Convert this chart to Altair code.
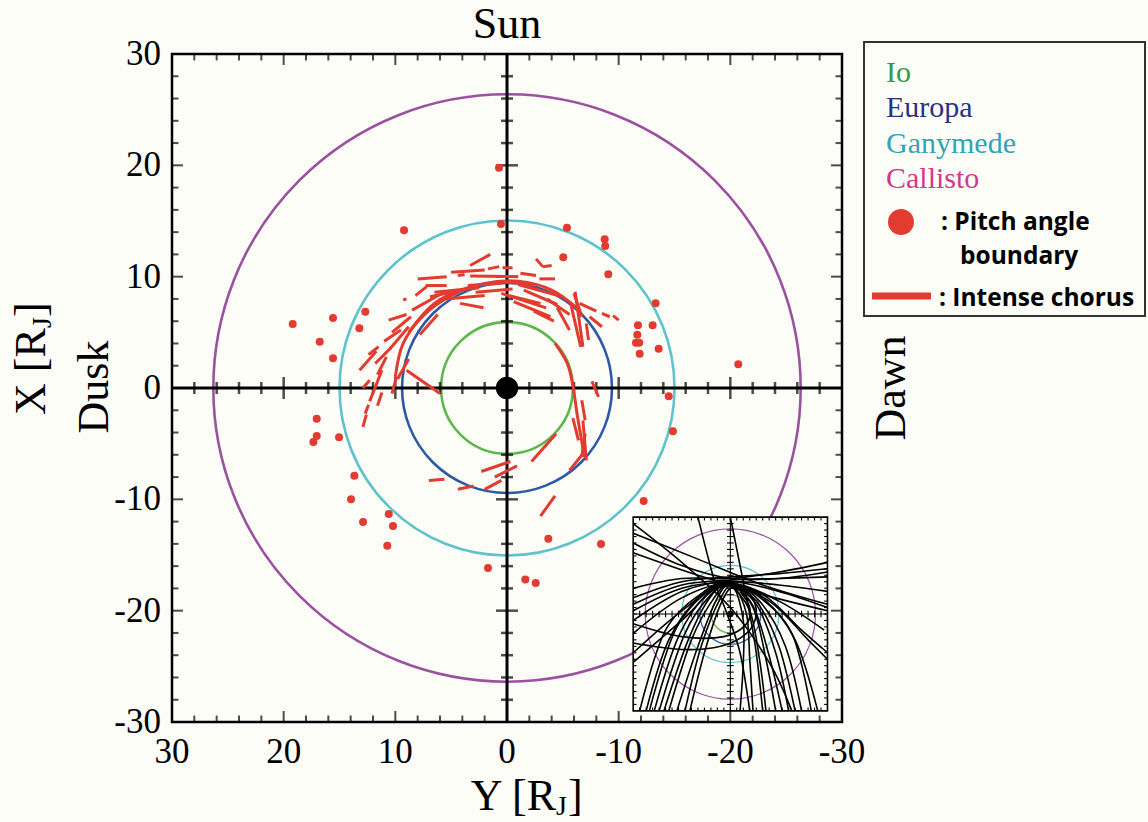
import math
import altair as alt
import pandas as pd

# ---------------------------------------------------------------- layout
W, H = 670, 668
PAD = {"left": 172, "top": 54, "right": 306, "bottom": 100}
SERIF = "Liberation Serif"
SANS = "Open Sans"
BG = "#fdfdf8"
RED = "#e23b30"
TAU = 2 * math.pi + 0.001

# ---------------------------------------------------------------- data
MOONS = ["Io", "Europa", "Ganymede", "Callisto"]
ORBIT_R = [5.9, 9.4, 15.0, 26.3]
ORBIT_COLOR = ["#5cb84a", "#2d5aa6", "#5ec3cc", "#9b51a0"]
MOON_TEXT_COLOR = ["#2f9a4a", "#2b3180", "#2fa5b5", "#d2398b"]
JUPITER_R = 1.0

AXIS_LABELS = [30, 20, 10, 0, -10, -20, -30]
TICKS = list(range(-28, 29, 2))
MAJOR = [-20, -10, 0, 10, 20]

# pitch angle boundary crossings (Y, X) in R_J
PITCH_Y = [0.72, 0.54, 9.22, -5.37, -8.75, -8.80, -5.04, -9.07, -13.31, 19.19,
           15.58, 12.69, 16.77, 13.22, 15.58, -11.73, -13.04, -11.67, -11.55, -11.84,
           -11.88, -13.58, -20.71, -14.48, -14.86, 17.04, 17.04, 17.34, 15.04, 13.67,
           13.97, 10.59, 12.89, 10.21, 10.72, -3.70, -12.24, -8.42, 1.70, -1.64, -2.57]
PITCH_X = [19.79, 14.73, 14.17, 14.40, 13.36, 12.76, 11.74, 10.22, 7.61, 5.75,
           6.29, 6.86, 4.16, 5.36, 2.67, 5.63, 5.63, 4.79, 4.07, 4.07,
           3.08, 3.53, 2.13, -0.75, -3.89, -2.76, -4.31, -4.85, -4.43, -7.88,
           -10.00, -11.32, -12.04, -12.40, -14.17, -13.54, -10.15, -14.02, -16.17, -17.19, -17.52]

# intense chorus intervals along the orbit: (Y1, X1, Y2, X2)
CHORUS_SEGMENTS = [
    (8.0, 9.8, 5.4, 10.0), (3.3, 10.05, -1.0, 10.0), (3.3, 11.0, 1.5, 12.0),
    (1.7, 10.7, 0.7, 10.9), (0.4, 10.8, -0.5, 10.8), (-2.6, 11.6, -3.2, 10.9),
    (-3.2, 10.9, -4.0, 11.0), (-2.9, 9.8, -4.3, 9.8), (7.3, 9.2, 5.4, 9.2),
    (8.2, 8.3, 7.2, 9.1), (9.3, 7.9, 9.0, 8.0), (4.4, 10.1, 3.8, 10.2),
    (6.9, 8.2, 4.5, 8.7), (6.5, 8.6, 2.5, 9.0), (5.5, 8.0, 2.0, 8.3),
    (4.2, 7.6, 2.1, 7.2), (3.5, 9.2, 0.5, 9.4), (10.6, 6.1, 9.0, 6.6),
    (10.3, 5.0, 8.6, 6.4), (11.0, 4.2, 9.5, 5.2), (12.4, 3.0, 11.5, 3.7),
    (13.2, 1.6, 11.7, 3.3), (10.5, 3.5, 8.8, 5.5), (12.9, 0.0, 12.3, 0.7),
    (12.3, -1.2, 11.2, 1.6), (11.6, -1.6, 11.2, -0.4), (12.7, -2.3, 12.4, -1.5),
    (12.9, -3.5, 12.6, -2.4), (10.3, -0.5, 9.9, 1.0), (9.8, 0.8, 8.8, 2.6),
    (9.0, 1.6, 6.0, -0.5), (-0.6, 7.75, -3.9, 6.4), (-2.4, 6.9, -4.2, 6.0),
    (0.5, 8.5, -3.5, 7.2), (-1.5, 8.8, -4.5, 7.5), (-6.1, 8.65, -6.8, 3.7),
    (-5.7, 7.6, -6.6, 3.7), (-6.5, 7.6, -8.0, 6.9), (-8.5, 6.7, -9.2, 6.4),
    (-9.5, 6.5, -10.0, 6.1), (-7.4, 6.4, -8.5, 5.5), (-7.1, 5.8, -7.3, 4.3),
    (-6.0, 8.5, -6.7, 6.4), (-7.6, 0.6, -8.2, -0.8), (-6.7, -1.1, -7.0, -2.9),
    (-5.9, -2.7, -6.4, -4.7), (-6.8, -2.9, -7.1, -6.5), (-6.7, -6.2, -7.0, -4.1),
    (-5.6, -7.4, -6.8, -5.9), (-2.2, -6.6, -4.4, -4.1), (2.3, -7.5, -0.3, -6.6),
    (1.1, -8.0, -0.9, -7.0), (7.0, -8.3, 5.6, -8.2), (4.4, -9.1, 3.0, -8.8),
    (2.0, -9.1, 0.5, -8.3), (-3.0, -11.5, -4.3, -9.7),
    (8.5, 7.0, 6.0, 8.4), (7.8, 4.8, 6.2, 6.6), (11.8, 2.2, 10.4, 3.6),
    (-1.0, 9.3, -5.0, 8.2), (-4.5, 7.2, -5.6, 5.2),
    (5.0, 10.4, 2.0, 10.6), (-1.2, 10.3, -2.6, 10.1), (2.8, 8.6, -0.5, 8.9),
    (-0.2, 8.3, -3.0, 7.6), (-3.6, 8.0, -5.6, 6.6), (11.6, 1.2, 10.8, 2.8),
]
# longer chorus stretches that follow the orbit
CHORUS_ARCS = [
    [(10.0, 1.0), (9.3, 4.0), (7.5, 6.5), (5.0, 8.3), (2.0, 9.4), (-1.0, 9.6), (-4.0, 8.8), (-6.5, 7.0)],
    [(8.8, 5.0), (6.5, 7.6), (3.5, 9.0), (0.5, 9.5), (-2.5, 9.2)],
    [(-4.3, 4.0), (-5.4, 2.2), (-5.9, 0.2), (-6.3, -2.5), (-6.7, -4.8), (-6.9, -6.2)],
]

# inset: spacecraft trajectories, (Y, X) in R_J, -30..30 box
INSET_CENTER = (-20.0, -20.3)
INSET_SCALE = 0.29
INSET_TRACKS = [
    [(30, 28), (15, 16), (0, 2), (-12, -15), (-19, -30)],
    [(30, 25), (10, 17), (-10, 9), (-30, 3)],
    [(30, 19), (10, 12), (-10, 6), (-30, 1)],
    [(30, 8), (15, 11), (0, 11), (-15, 13), (-30, 16)],
    [(30, 5), (15, 10), (0, 11.5), (-15, 12.5), (-30, 14)],
    [(30, 3), (15, 9), (0, 10.5), (-15, 11), (-30, 11.5)],
    [(30, 1), (15, 8), (0, 10), (-15, 9), (-30, 7)],
    [(30, -2), (15, 7), (0, 10), (-15, 7), (-30, 2)],
    [(30, -6), (15, 5), (0, 9.5), (-15, 4), (-29, -5)],
    [(30, -12), (15, 1), (2, 9), (-12, 4), (-24, -8), (-30, -14)],
    [(30, -15), (15, -2), (3, 8.5), (-10, 6), (-22, -5), (-30, -12)],
    [(28, -30), (20, -5), (8, 7), (0, 9.5), (-10, 5), (-20, -8), (-27, -30)],
    [(26, -30), (19, -8), (9, 6), (1, 9.8), (-8, 6), (-19, -6), (-25, -30)],
    [(25, -30), (17, -5), (7, 7), (0, 9.5), (-9, 4), (-17, -10), (-22, -30)],
    [(23.5, -30), (16, -7), (7, 6.5), (0, 9.2), (-8, 4), (-15, -10), (-20, -30)],
    [(22, -30), (14, -6), (6, 6), (0, 9), (-8, 3), (-14, -12), (-18, -30)],
    [(20.5, -30), (13, -8), (6, 5.5), (0, 8.8), (-7, 2.5), (-12, -13), (-16, -30)],
    [(19, -30), (12, -8), (5, 5), (0, 9), (-7, 2), (-11, -14), (-14, -30)],
    [(16.5, -30), (10, -10), (4, 5), (0, 8.5), (-6, 1), (-9, -14), (-11, -30)],
    [(14, -30), (9, -10), (3, 5), (-1, 8.5), (-5, 0), (-6, -14), (-7, -30)],
    [(12.5, -30), (8, -12), (3, 3), (-1, 8), (-4, -2), (-4, -15), (-3, -30)],
    [(10, 30), (7, 18), (4.5, 9), (1, 0), (-3, -12), (-6, -30)],
    [(0, 30), (-2, 20), (-4, 10), (-6, 0), (-8, -12), (-10, -30)],
    [(30, -9), (15, -11), (3, -10), (-5, -6), (-8, 0), (-6, 6), (0, 9.5)],
    [(30, -3), (15, -7), (2, -7), (-5, -3), (-6, 2), (-3, 7)],
    [(30, 22), (15, 15), (0, 11), (-15, 11), (-30, 13)],
]

# ---------------------------------------------------------------- scales
XS = alt.Scale(domain=[-30, 30], reverse=True, nice=False, zero=False)
YS = alt.Scale(domain=[-30, 30], nice=False, zero=False)
RS = alt.Scale(type="linear", domain=[0, 30], range=[0, W / 2])


def pos(xf="Y", yf="X"):
    return {"x": alt.X(f"{xf}:Q", scale=XS, axis=None),
            "y": alt.Y(f"{yf}:Q", scale=YS, axis=None)}


def radius(field="r"):
    return alt.Radius(f"{field}:Q", scale=RS, stack=None)


# ---------------------------------------------------------------- main panel
orbit_df = pd.DataFrame({"Y": 0.0, "X": 0.0, "r": ORBIT_R, "c": ORBIT_COLOR})
orbits = alt.Chart(orbit_df).mark_arc(filled=False, strokeWidth=2.6, theta=0, theta2=TAU).encode(
    **pos(), radius=radius(), stroke=alt.Stroke("c:N", scale=None))

cross_df = pd.DataFrame({"v": [0.0], "lo": [-30.0], "hi": [30.0]})
hline = alt.Chart(cross_df).mark_rule(color="black", strokeWidth=3).encode(
    x=alt.X("lo:Q", scale=XS, axis=None), x2="hi:Q", y=alt.Y("v:Q", scale=YS, axis=None))
vline = alt.Chart(cross_df).mark_rule(color="black", strokeWidth=3).encode(
    y=alt.Y("lo:Q", scale=YS, axis=None), y2="hi:Q", x=alt.X("v:Q", scale=XS, axis=None))

ctick_df = pd.DataFrame({"t": [t for t in TICKS if t != 0], "z": 0.0})
ctick_df["len"] = [22 if t in MAJOR else 12 for t in ctick_df["t"]]
cticks_h = alt.Chart(ctick_df).mark_tick(orient="vertical", color="black", thickness=2.5).encode(
    **pos("t", "z"), size=alt.Size("len:Q", scale=None))
cticks_v = alt.Chart(ctick_df).mark_tick(orient="horizontal", color="black", thickness=2.5).encode(
    **pos("z", "t"), size=alt.Size("len:Q", scale=None))

# inward ticks on the frame (outer half clipped away by the view)
edge_rows = []
for t in TICKS:
    ln = 22 if t in MAJOR else 13
    edge_rows.append({"t": t, "e": -30.0, "len": ln})
    edge_rows.append({"t": t, "e": 30.0, "len": ln})
edge_df = pd.DataFrame(edge_rows)
eticks_tb = alt.Chart(edge_df).mark_tick(orient="vertical", color="black", thickness=2, clip=True).encode(
    **pos("t", "e"), size=alt.Size("len:Q", scale=None))
eticks_lr = alt.Chart(edge_df).mark_tick(orient="horizontal", color="black", thickness=2, clip=True).encode(
    **pos("e", "t"), size=alt.Size("len:Q", scale=None))

# tick labels along the bottom and left edges
lab_df = pd.DataFrame({"v": AXIS_LABELS, "lab": [str(v) for v in AXIS_LABELS]})
xlabels = alt.Chart(lab_df).mark_text(font=SERIF, fontSize=35, baseline="alphabetic", align="center").encode(
    x=alt.X("v:Q", scale=XS, axis=None), y=alt.value(H + 41), text="lab:N")
ylabels = alt.Chart(lab_df).mark_text(font=SERIF, fontSize=35, baseline="middle", align="right").encode(
    y=alt.Y("v:Q", scale=YS, axis=None), x=alt.value(-11), text="lab:N")

seg_df = pd.DataFrame(CHORUS_SEGMENTS, columns=["Y", "X", "Y2", "X2"])
segments = alt.Chart(seg_df).mark_rule(color=RED, strokeWidth=3).encode(
    **pos(), x2="Y2:Q", y2="X2:Q")

arc_rows = [{"arc": k, "i": i, "Y": y, "X": x}
            for k, arc in enumerate(CHORUS_ARCS) for i, (y, x) in enumerate(arc)]
arcs = alt.Chart(pd.DataFrame(arc_rows)).mark_line(color=RED, strokeWidth=3, interpolate="cardinal").encode(
    **pos(), detail="arc:N", order="i:Q")

dots = alt.Chart(pd.DataFrame({"Y": PITCH_Y, "X": PITCH_X})).mark_circle(
    color=RED, size=64, opacity=1).encode(**pos())

jupiter = alt.Chart(pd.DataFrame({"Y": [0.0], "X": [0.0], "r": [JUPITER_R]})).mark_arc(
    color="black", theta=0, theta2=TAU).encode(**pos(), radius=radius())

# ---------------------------------------------------------------- inset
cy, cx = INSET_CENTER
s = INSET_SCALE
left_e, right_e = cy + 30 * s, cy - 30 * s
top_e, bot_e = cx + 30 * s, cx - 30 * s

inset_box = alt.Chart(pd.DataFrame({"Y": [left_e], "Y2": [right_e], "X": [top_e], "X2": [bot_e]})).mark_rect(
    fill=BG, stroke="black", strokeWidth=1.6).encode(**pos(), x2="Y2:Q", y2="X2:Q")

inset_orbit_df = pd.DataFrame({"Y": cy, "X": cx, "r": [r * s for r in ORBIT_R], "c": ORBIT_COLOR})
inset_orbits = alt.Chart(inset_orbit_df).mark_arc(filled=False, strokeWidth=1.2, theta=0, theta2=TAU).encode(
    **pos(), radius=radius(), stroke=alt.Stroke("c:N", scale=None))

inset_rows = [
    {"Y": left_e, "X": cx, "Y2": right_e, "X2": cx},
    {"Y": cy, "X": top_e, "Y2": cy, "X2": bot_e},
]
tl = 0.3
for t in TICKS:
    yy, xx = cy + t * s, cx + t * s
    inset_rows += [
        {"Y": yy, "X": bot_e, "Y2": yy, "X2": bot_e + tl},
        {"Y": yy, "X": top_e, "Y2": yy, "X2": top_e - tl},
        {"Y": left_e, "X": xx, "Y2": left_e - tl, "X2": xx},
        {"Y": right_e, "X": xx, "Y2": right_e + tl, "X2": xx},
        {"Y": yy, "X": cx - tl, "Y2": yy, "X2": cx + tl},
        {"Y": cy - tl, "X": xx, "Y2": cy + tl, "X2": xx},
    ]
inset_rules = alt.Chart(pd.DataFrame(inset_rows)).mark_rule(color="black", strokeWidth=1.1).encode(
    **pos(), x2="Y2:Q", y2="X2:Q")

track_rows = [{"track": k, "i": i, "Y": cy + y * s, "X": cx + x * s}
              for k, tr in enumerate(INSET_TRACKS) for i, (y, x) in enumerate(tr)]
inset_tracks = alt.Chart(pd.DataFrame(track_rows)).mark_line(
    color="black", strokeWidth=1.6, interpolate="cardinal").encode(**pos(), detail="track:N", order="i:Q")

inset_jupiter = alt.Chart(pd.DataFrame({"Y": [cy], "X": [cx], "r": [JUPITER_R * s]})).mark_arc(
    color="black", theta=0, theta2=TAU).encode(**pos(), radius=radius())

# ---------------------------------------------------------------- text
ONE = pd.DataFrame({"k": [0]})


def text(s_, px, py, size, color="black", font=SERIF, weight="normal", angle=0, align="left"):
    return alt.Chart(ONE).mark_text(text=s_, font=font, fontSize=size, fontWeight=weight, color=color,
                                    angle=angle, align=align, baseline="alphabetic").encode(
        x=alt.value(px), y=alt.value(py))


texts = [
    text("Sun", 335, -16, 44, align="center"),
    text("Y [R", 384, 756, 44, align="right"),
    text("J", 384, 761, 28),
    text("]", 396, 756, 44),
    text("X [R", -127, 361, 44, angle=270),
    text("J", -121, 274, 28, angle=270),
    text("]", -127, 263, 44, angle=270),
    text("Dusk", -64, 333, 44, angle=270, align="center"),
    text("Dawn", 733, 334, 44, angle=270, align="center"),
]

legend_box = alt.Chart(ONE).mark_rect(fill="transparent", stroke="#333333", strokeWidth=2).encode(
    x=alt.value(692), x2=alt.value(973), y=alt.value(-12), y2=alt.value(262))
legend_items = [text(m, 714, b, 30, color=c) for m, c, b in zip(MOONS, MOON_TEXT_COLOR, [28, 63, 99, 134])]
legend_dot = alt.Chart(ONE).mark_circle(color=RED, size=676, opacity=1).encode(
    x=alt.value(729), y=alt.value(168))
legend_line = alt.Chart(ONE).mark_rule(color=RED, strokeWidth=7).encode(
    x=alt.value(700), x2=alt.value(759), y=alt.value(242))
legend_texts = [
    text(": Pitch angle", 769, 176, 24.5, font=SANS, weight="bold"),
    text("boundary", 788, 210, 24.5, font=SANS, weight="bold"),
    text(": Intense chorus", 767, 252, 24.5, font=SANS, weight="bold"),
]

chart = alt.layer(
    orbits, hline, vline, cticks_h, cticks_v, eticks_tb, eticks_lr, xlabels, ylabels,
    segments, arcs, dots, jupiter,
    inset_box, inset_orbits, inset_rules, inset_tracks, inset_jupiter,
    *texts, legend_box, *legend_items, legend_dot, legend_line, *legend_texts,
).properties(
    width=W, height=H, padding=PAD, autosize=alt.AutoSizeParams(type="none"), background=BG,
).configure_view(stroke="black", strokeWidth=2.5)

chart.save("out.html", embed_options={"renderer": "svg", "actions": False})
